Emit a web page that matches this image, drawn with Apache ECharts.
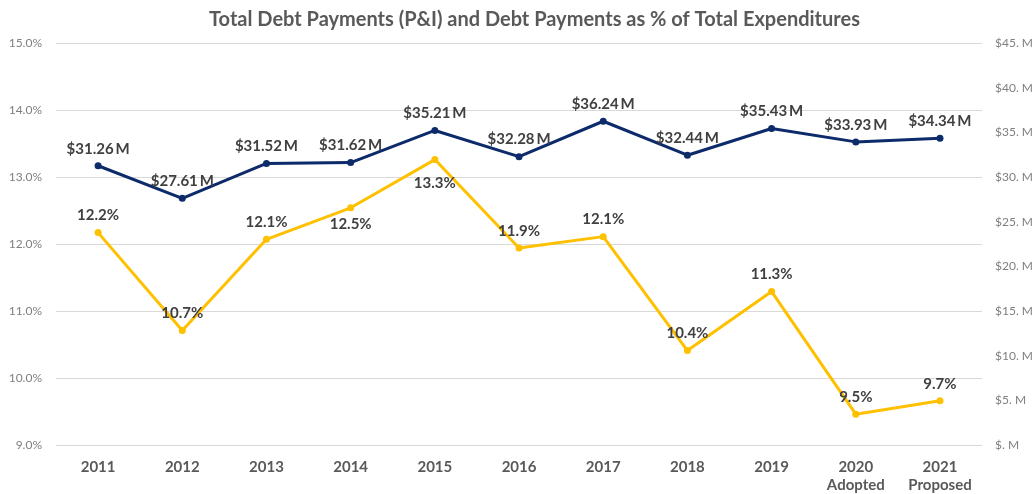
<!DOCTYPE html>
<html>
<head>
<meta charset="utf-8">
<script src="https://cdn.jsdelivr.net/npm/echarts@6/dist/echarts.min.js"></script>
<style>
  html, body { margin: 0; padding: 0; background: #fff; }
  #chart { width: 1036px; height: 494px; }
</style>
</head>
<body>
<div id="chart"></div>
<script>
// chart data
var years = ['2011', '2012', '2013', '2014', '2015', '2016', '2017', '2018', '2019', '2020\nAdopted', '2021\nProposed']
var debtPayments = [31.26, 27.61, 31.52, 31.62, 35.21, 32.28, 36.24, 32.44, 35.43, 33.93, 34.34]
var pctOfExpenditures = [12.17, 10.71, 12.07, 12.54, 13.26, 11.94, 12.11, 10.41, 11.29, 9.46, 9.66]
// % label placed under the point for these indexes (2014, 2015)
var pctBelow = { 3: 5, 4: 13 }

var font = 'Lato, "Noto Sans", sans-serif'

var chart = echarts.init(document.getElementById('chart'))
chart.setOption({
  animation: false,
  title: {
    text: 'Total Debt Payments (P&I) and Debt Payments as % of Total Expenditures',
    left: 204,
    top: 5,
    textStyle: {
      fontFamily: font,
      fontSize: 20,
      fontWeight: 'bold',
      color: '#595959'
    }
  },
  grid: {
    left: 56,
    right: 51,
    top: 43,
    bottom: 47
  },
  xAxis: {
    type: 'category',
    data: years,
    axisLine: { show: false },
    axisTick: { show: false },
    axisLabel: {
      fontFamily: font,
      fontSize: 15,
      fontWeight: 'bold',
      color: '#595959',
      lineHeight: 18,
      margin: 13
    }
  },
  yAxis: [{
    type: 'value',
    min: 9,
    max: 15,
    interval: 1,
    axisLine: { show: false },
    axisTick: { show: false },
    axisLabel: {
      fontFamily: font,
      fontSize: 12,
      color: '#7f7f7f',
      margin: 14,
      formatter: function (v) {
        return v.toFixed(1) + '%'
      }
    },
    splitLine: { lineStyle: { color: '#d9d9d9', width: 1 } }
  }, {
    type: 'value',
    min: 0,
    max: 45,
    interval: 5,
    axisLine: { show: false },
    axisTick: { show: false },
    splitLine: { show: false },
    axisLabel: {
      fontFamily: font,
      fontSize: 12,
      color: '#7f7f7f',
      margin: 13,
      formatter: function (v) {
        return '$' + (v === 0 ? '' : v) + '. M'
      }
    }
  }],
  series: [{
    name: 'Debt Payments',
    type: 'line',
    yAxisIndex: 1,
    data: debtPayments,
    symbol: 'circle',
    symbolSize: 7,
    lineStyle: { color: '#0d2b6b', width: 3 },
    itemStyle: { color: '#0d2b6b' },
    label: {
      show: true,
      position: 'top',
      distance: 6,
      fontFamily: font,
      fontSize: 15,
      fontWeight: 'bold',
      color: '#404040',
      formatter: function (p) {
        return '$' + p.value.toFixed(2) + '\u2009M'
      }
    }
  }, {
    name: '% of Total Expenditures',
    type: 'line',
    yAxisIndex: 0,
    data: pctOfExpenditures.map(function (v, i) {
      var item = { value: v }
      if (pctBelow[i] !== undefined) {
        item.label = { position: 'bottom', distance: pctBelow[i] }
      }
      return item
    }),
    symbol: 'circle',
    symbolSize: 7,
    lineStyle: { color: '#ffc000', width: 3 },
    itemStyle: { color: '#ffc000' },
    label: {
      show: true,
      position: 'top',
      distance: 6,
      fontFamily: font,
      fontSize: 15,
      fontWeight: 'bold',
      color: '#404040',
      formatter: function (p) {
        return p.value.toFixed(1) + '%'
      }
    }
  }]
})
</script>
</body>
</html>
